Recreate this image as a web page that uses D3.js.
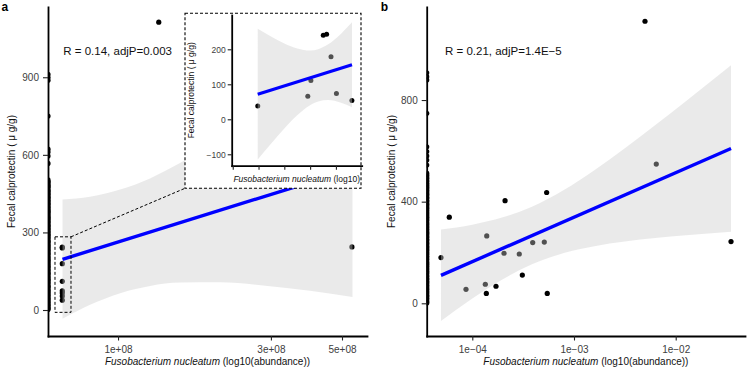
<!DOCTYPE html>
<html><head><meta charset="utf-8">
<script src="https://cdn.jsdelivr.net/npm/d3@7"></script>
<style>
body{margin:0;background:#fff}
svg{display:block}
text{font-family:"Liberation Sans",Arial,Helvetica,sans-serif}
</style>
</head><body>
<svg id="c" width="748" height="369"></svg>
<script>
// ---------------- Panel a data ----------------
const fnA  = [6.70e7,6.70e7,6.70e7,6.70e7,6.70e7,6.70e7,6.70e7,6.70e7,1.34e8,5.37e8];
const calA = [38,66,111,240,243,179,74,54,1113,244];
// samples with zero abundance (plotted at the axis edge, -Inf on log scale)
const zeroCalA = [911,899,888,750,622,611,596,567,503,497,493,486,480,477,470,463,459,452,448,441,436,431,424,420,413,409,402,397,391,386,380,377,370,364,359,353,349,342,338,331,326,322,315,311,304,300,293,289,282,278,271,266,262,255,250,244,240,233,229,222,217,213,206,201,195,190,186,179,174,168,164,157,153,146,141,137,130,125,119,115,108,104,97,92,88,81,76,70,66,59,55,48,43,39,32,28,21,17,11,6,2];
const fitAx = [6.71e7, 5.39e8];
const fitAy = [196, 545];
const bandAx  = [6.712e7, 8.178e7, 1.0219e8, 1.2584e8, 1.5612e8, 2.0813e8, 2.8347e8, 3.9729e8, 5.3913e8];
const bandAlo = [-34, 20, 66, 93, 106, 107, 95, 74, 50];
const bandAhi = [427, 438, 467, 509, 568, 664, 780, 914, 1040];
const xTicksA = [1e8, 3e8, 5e8];
const xTickLabelsA = ["1e+08","3e+08","5e+08"];
const yTicksA = [0, 300, 600, 900];
const yTickLabelsA = ["0","300","600","900"];

// inset (zoom of the low-abundance cluster)
const insetX   = [0.97, 2.91, 3.03, 3.51, 3.64, 3.81, 4.02, 4.62];
const insetCal = [38, 66, 111, 240, 243, 179, 74, 54];
const insetFitX = [0.969, 4.624];
const insetFitY = [71.8, 155.7];
const insetBandX  = [0.969, 1.5, 2.0, 2.5, 3.0, 3.314, 3.7, 4.2, 4.624];
const insetBandLo = [-114.9, -68.1, -26.1, 11.5, 40.4, 51.0, 54.8, 47.2, 34.4];
const insetBandHi = [258.5, 236.0, 216.9, 202.3, 196.4, 200.2, 214.2, 244.6, 277.0];
const insetYTicks = [-100, 0, 100, 200];
const insetYTickLabels = ["\u2212100","0","100","200"];
const insetXTicks = [0, 1, 2, 3, 4];

// ---------------- Panel b data ----------------
const fnB  = [5.94e-5,4.92e-5,8.67e-5,1.343e-4,1.374e-4,1.387e-4,1.710e-4,2.051e-4,2.099e-4,2.897e-4,3.105e-4,3.926e-4,5.105e-4,5.383e-4,5.458e-4,4.989e-3,6.442e-3,3.499e-2];
const calB = [339,180,55,75,39,265,67,197,404,194,111,239,241,436,39,1110,548,243];
const zeroCalB = [907,892,879,748,616,597,580,564,544,512,506,501,494,490,483,479,472,467,462,456,451,445,440,434,429,424,417,413,406,402,395,390,385,379,374,368,363,357,352,347,340,336,329,325,318,313,308,302,297,291,286,280,275,270,263,259,252,248,241,236,231,225,220,214,209,203,198,193,186,182,175,171,164,159,154,148,143,137,132,126,121,116,109,105,98,94,87,82,77,71,66,60,55,49,44,39,32,28,21,17,10,5,1];
const fitBx = [4.92e-5, 3.499e-2];
const fitBy = [110, 609];
const bandBx  = [4.92e-5, 1e-4, 1.995e-4, 3.811e-4, 7.943e-4, 1.585e-3, 3.162e-3, 6.310e-3, 1.259e-2, 3.499e-2];
const bandBlo = [-70, 18.5, 94.8, 152.3, 197.5, 224.7, 243.1, 256.7, 267.6, 281.1];
const bandBhi = [290, 309.5, 338.2, 379.1, 445.5, 523.3, 609.9, 701.3, 795.4, 937.3];
const xTicksB = [1e-4, 1e-3, 1e-2];
const xTickLabelsB = ["1e\u221204","1e\u221203","1e\u221202"];
const yTicksB = [0, 400, 800];
const yTickLabelsB = ["0","400","800"];

const statA = "R = 0.14, adjP=0.003";
const statB = "R = 0.21, adjP=1.4E\u22125";
const yTitle = "Fecal calprotectin ( \u03bc g/g)";
const speciesName = "Fusobacterium nucleatum";

// ---------------- drawing ----------------
const svg = d3.select("#c");
const BLUE = "#0000ff";
const RIB_FILL = "#cbcbcb", RIB_OP = 0.4;

function styleAxis(g, fs) {
  g.select(".domain").attr("stroke","#000").attr("stroke-width",1.8).attr("stroke-linecap","square");
  g.selectAll(".tick line").attr("stroke","#222").attr("stroke-width",1.1);
  g.selectAll(".tick text").attr("fill","#404040").style("font-size",fs+"px");
}

function xTitle(sel, cx, y, fs, tail) {
  const t = sel.append("text").attr("x",cx).attr("y",y).attr("text-anchor","middle")
    .style("font-size",fs+"px").attr("fill","#111");
  t.append("tspan").style("font-style","italic").text(speciesName);
  t.append("tspan").text(tail);
}

function panel(opts) {
  const {x, y, fn, cal, zeros, fitX, fitY, bX, bLo, bHi, xT, xTL, yT, yTL, id} = opts;
  const [x0, x1] = x.range();
  const [yb, yt] = y.range();
  svg.append("clipPath").attr("id", id).append("rect")
    .attr("x", x0).attr("y", yt).attr("width", x1 - x0).attr("height", yb - yt);
  const g = svg.append("g").attr("clip-path", `url(#${id})`);
  // zero-abundance samples at the left edge
  g.selectAll(null).data(zeros).join("circle")
    .attr("cx", x0).attr("cy", d => y(d)).attr("r", 2.6).attr("fill", "#000");
  g.selectAll(null).data(fn).join("circle")
    .attr("cx", d => x(d)).attr("cy", (d,i) => y(cal[i])).attr("r", 2.6).attr("fill", "#000");
  const band = bX.map((d,i) => ({x:d, lo:bLo[i], hi:bHi[i]}));
  g.append("path").datum(band)
    .attr("d", d3.area().x(d => x(d.x)).y0(d => y(d.lo)).y1(d => y(d.hi)).curve(d3.curveMonotoneX))
    .attr("fill", RIB_FILL).attr("fill-opacity", RIB_OP);
  g.append("path").datum(fitX.map((d,i) => [d, fitY[i]]))
    .attr("d", d3.line().x(d => x(d[0])).y(d => y(d[1])))
    .attr("stroke", BLUE).attr("stroke-width", 3.4).attr("fill", "none");
  const ay = svg.append("g").attr("transform", `translate(${x0},0)`)
    .call(d3.axisLeft(y).tickValues(yT).tickFormat((d,i) => yTL[i]).tickSize(5).tickPadding(4).tickSizeOuter(0));
  styleAxis(ay, 10);
  const ax = svg.append("g").attr("transform", `translate(0,${yb})`)
    .call(d3.axisBottom(x).tickValues(xT).tickFormat((d,i) => xTL[i]).tickSize(4.5).tickPadding(5).tickSizeOuter(0));
  styleAxis(ax, 10);
  return g;
}

// Panel a
const xA = d3.scaleLog().domain([6.046e7, 5.984e8]).range([48, 367]);
const yA = d3.scaleLinear().domain([-100.5, 1171.7]).range([336, 7]);
panel({x:xA, y:yA, fn:fnA, cal:calA, zeros:zeroCalA, fitX:fitAx, fitY:fitAy,
  bX:bandAx, bLo:bandAlo, bHi:bandAhi, xT:xTicksA, xTL:xTickLabelsA, yT:yTicksA, yTL:yTickLabelsA, id:"clipA"});

// Panel b
const xB = d3.scaleLog().domain([3.5615e-5, 4.8017e-2]).range([426.7, 745]);
const yB = d3.scaleLinear().domain([-128.7, 1166.1]).range([336, 7]);
panel({x:xB, y:yB, fn:fnB, cal:calB, zeros:zeroCalB, fitX:fitBx, fitY:fitBy,
  bX:bandBx, bLo:bandBlo, bHi:bandBhi, xT:xTicksB, xTL:xTickLabelsB, yT:yTicksB, yTL:yTickLabelsB, id:"clipB"});

// zoom box around the low-abundance cluster + connector
const bx = xA(fnA[0]) - 7.3, bw = 16;
const byTop = yA(283), byBot = yA(-9);
svg.append("rect").attr("x", bx).attr("y", byTop).attr("width", bw).attr("height", byBot - byTop)
  .attr("fill","none").attr("stroke","#000").attr("stroke-width",1).attr("stroke-dasharray","3,2");
const inset = {x:185, y:13.3, w:176, h:175};
svg.append("line").attr("x1", bx + bw).attr("y1", byTop).attr("x2", inset.x).attr("y2", inset.y + inset.h)
  .attr("stroke","#000").attr("stroke-width",1).attr("stroke-dasharray","3,2");

// inset
svg.append("rect").attr("x", inset.x).attr("y", inset.y).attr("width", inset.w).attr("height", inset.h)
  .attr("fill","#fff").attr("stroke","#000").attr("stroke-width",1.1).attr("stroke-dasharray","3,2");
const xI = d3.scaleLinear().domain([-0.04, 5]).range([231.7, 361.7]);
const yI = d3.scaleLinear().domain([-132.6, 298]).range([165.7, 15]);
const gi = svg.append("g");
gi.selectAll(null).data(insetX).join("circle")
  .attr("cx", d => xI(d)).attr("cy", (d,i) => yI(insetCal[i])).attr("r", 2.5).attr("fill","#000");
const ib = insetBandX.map((d,i) => ({x:d, lo:insetBandLo[i], hi:insetBandHi[i]}));
gi.append("path").datum(ib)
  .attr("d", d3.area().x(d => xI(d.x)).y0(d => yI(d.lo)).y1(d => yI(d.hi)).curve(d3.curveMonotoneX))
  .attr("fill", RIB_FILL).attr("fill-opacity", RIB_OP);
gi.append("path").datum(insetFitX.map((d,i) => [d, insetFitY[i]]))
  .attr("d", d3.line().x(d => xI(d[0])).y(d => yI(d[1])))
  .attr("stroke", BLUE).attr("stroke-width", 3.2).attr("fill","none");
const iay = svg.append("g").attr("transform","translate(231.7,0)")
  .call(d3.axisLeft(yI).tickValues(insetYTicks).tickFormat((d,i) => insetYTickLabels[i]).tickSize(4).tickPadding(2).tickSizeOuter(0));
styleAxis(iay, 8.5);
const iax = svg.append("g").attr("transform","translate(0,165.7)")
  .call(d3.axisBottom(xI).tickValues(insetXTicks).tickFormat(() => "").tickSize(4).tickSizeOuter(0));
styleAxis(iax, 8.5);
xTitle(svg, 296.7, 181.7, 8.5, " (log10)");
svg.append("text").attr("transform","translate(193.5,90.3) rotate(-90)").attr("text-anchor","middle")
  .style("font-size","8.5px").attr("fill","#111").text(yTitle);

// titles and labels
xTitle(svg, 207.5, 364.5, 10, " (log10(abundance))");
xTitle(svg, 585.9, 364.5, 10, " (log10(abundance))");
svg.append("text").attr("transform","translate(14.5,171.5) rotate(-90)").attr("text-anchor","middle")
  .style("font-size","10px").attr("fill","#111").text(yTitle);
svg.append("text").attr("transform","translate(394.5,171.5) rotate(-90)").attr("text-anchor","middle")
  .style("font-size","10px").attr("fill","#111").text(yTitle);
svg.append("text").attr("x",63.3).attr("y",55).style("font-size","11.5px").attr("fill","#111").text(statA);
svg.append("text").attr("x",445).attr("y",55).style("font-size","11.5px").attr("fill","#111").text(statB);
svg.append("text").attr("x",1.5).attr("y",10.7).style("font-size","12px").style("font-weight","bold").text("a");
svg.append("text").attr("x",380.7).attr("y",11).style("font-size","12px").style("font-weight","bold").text("b");
</script>
</body></html>
